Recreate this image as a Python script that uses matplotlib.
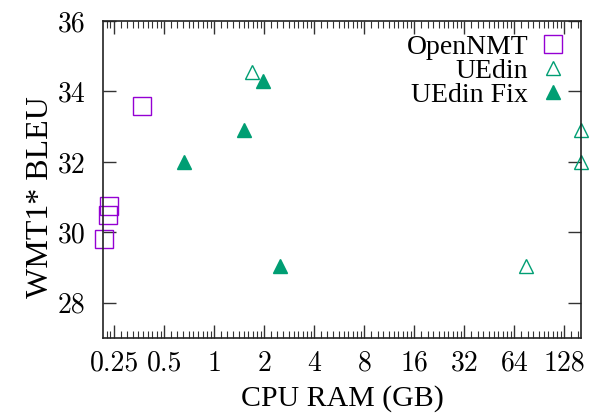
import numpy as np
import matplotlib
matplotlib.use("Agg")
import matplotlib.pyplot as plt
from matplotlib.ticker import LogLocator, FixedLocator, NullFormatter

plt.rcParams['font.family'] = ['cmr10', 'DejaVu Serif']
plt.rcParams['axes.formatter.use_mathtext'] = True

# data
opennmt_ram = [0.369, 0.232, 0.228, 0.216]
opennmt_bleu = [33.6, 30.75, 30.5, 29.82]
uedin_ram = [1.69, 160, 160, 75]
uedin_bleu = [34.55, 32.9, 32.0, 29.05]
fix_ram = [1.96, 1.51, 0.66, 2.49]
fix_bleu = [34.3, 32.9, 32.0, 29.05]

xticks = [0.25, 0.5, 1, 2, 4, 8, 16, 32, 64, 128]
xticklabels = ["0.25", "0.5", "1", "2", "4", "8", "16", "32", "64", "128"]
yticks = [28, 30, 32, 34, 36]

purple = '#9400D3'
green = '#009E73'
text_font = ['Liberation Serif', 'DejaVu Serif']

fig = plt.figure(figsize=(5.93, 4.15), dpi=100)
ax = fig.add_axes([0.1742, 0.1855, 0.8056, 0.7639])

ax.plot(opennmt_ram, opennmt_bleu, linestyle='none', marker='s', ms=12.5,
        mfc='none', mec=purple, mew=1.0, label='OpenNMT', clip_on=False)
ax.plot(uedin_ram, uedin_bleu, linestyle='none', marker='^', ms=10.5,
        mfc='none', mec=green, mew=1.0, label='UEdin', clip_on=False)
ax.plot(fix_ram, fix_bleu, linestyle='none', marker='^', ms=10.5,
        mfc=green, mec=green, mew=1.0, label='UEdin Fix', clip_on=False)

ax.set_xscale('log', base=2)
ax.set_xlim(0.215, 161)
ax.set_ylim(27, 36)
ax.xaxis.set_major_locator(FixedLocator(xticks))
ax.set_xticklabels(xticklabels)
ax.xaxis.set_minor_locator(LogLocator(base=2, subs=np.arange(1.1, 1.95, 0.1), numticks=100))
ax.xaxis.set_minor_formatter(NullFormatter())
ax.set_yticks(yticks)
ax.set_yticklabels([str(v) for v in yticks])

ax.tick_params(which='both', direction='in', top=True, right=True, labelsize=20)
ax.tick_params(which='major', length=9.5, width=1.0, color='#333333')
ax.tick_params(which='minor', length=5, width=0.8, color='#333333')
ax.tick_params(axis='x', which='major', pad=9)
ax.tick_params(axis='y', which='major', pad=13)
for s in ax.spines.values():
    s.set_linewidth(1.2)
    s.set_color('#222222')

ax.set_xlabel('CPU RAM (GB)', fontsize=21.5, family=text_font)
ax.set_ylabel('WMT1* BLEU', fontsize=23, family=text_font)
ax.xaxis.set_label_coords(0.5, -0.148)
ax.yaxis.set_label_coords(-0.101, 0.446)

ax.legend(loc='upper right', bbox_to_anchor=(0.971, 0.958), frameon=False,
          markerfirst=False, prop={'family': text_font, 'size': 20},
          handlelength=1.0, handletextpad=0.4, labelspacing=-0.05,
          borderaxespad=0.0, borderpad=0.0)

fig.savefig('out.png', dpi=100)
